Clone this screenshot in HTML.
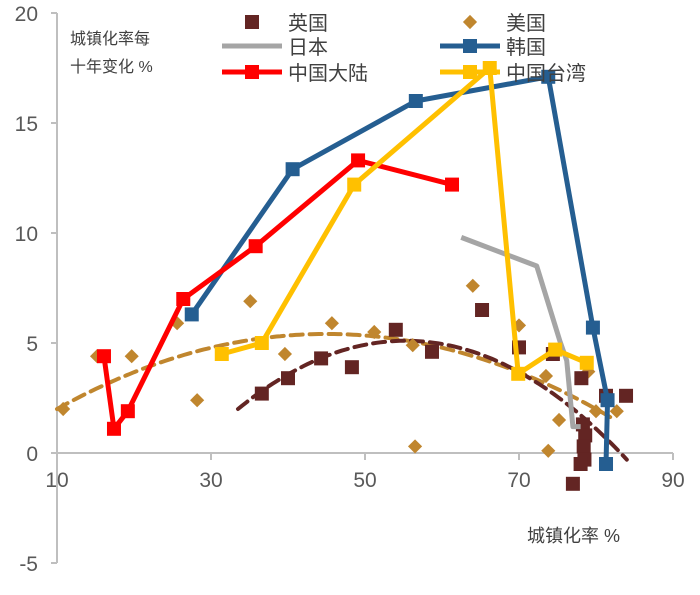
<!DOCTYPE html>
<html><head><meta charset="utf-8"><style>
body{margin:0;background:#fff;font-family:"Liberation Sans","Noto Sans CJK SC",sans-serif;}
svg text{font-family:"Liberation Sans","Noto Sans CJK SC",sans-serif;}
</style></head><body>
<svg id="c" width="700" height="590"></svg>
<script>
const xTicks=[10,30,50,70,90];
const yTicks=[-5,0,5,10,15,20];
const ukX=[36.6,40,44.3,48.3,54,58.7,65.2,70,74.4,78.1,81.3,83.9,78.3,78.6,78.4,78.5,78.0,77.0];
const ukY=[2.7,3.4,4.3,3.9,5.6,4.6,6.5,4.8,4.5,3.4,2.6,2.6,1.3,0.8,0.3,-0.3,-0.5,-1.4];
const usX=[10.8,15.2,19.7,25.6,28.2,35.1,39.6,45.7,51.2,56.2,56.5,64,70,73.5,73.8,75.2,79,80,82.7];
const usY=[2.0,4.4,4.4,5.9,2.4,6.9,4.5,5.9,5.5,4.9,0.3,7.6,5.8,3.5,0.1,1.5,3.7,1.9,1.9];
const jpX=[62.5,72.3,75.3,76.2,77.0,78.0];
const jpY=[9.8,8.5,5.1,4.2,1.2,1.2];
const krX=[27.5,40.6,56.6,73.8,79.6,81.5,81.3];
const krY=[6.3,12.9,16.0,17.1,5.7,2.4,-0.5];
const cnX=[16.1,17.4,19.2,26.4,35.8,49.1,61.3];
const cnY=[4.4,1.1,1.9,7.0,9.4,13.3,12.2];
const twX=[31.4,36.6,48.6,66.2,69.9,74.7,78.8];
const twY=[4.5,5.0,12.2,17.5,3.6,4.7,4.1];
const usTrendX=[10,47,82];const usTrendY=[2.0,5.4,1.6];
const ukTrendX=[33.5,55.8,84];const ukTrendY=[2.0,5.1,-0.3];

const sx=v=>57+(v-10)*7.7;
const sy=v=>453-v*22;
const svg=document.getElementById('c');
const NS='http://www.w3.org/2000/svg';
function mk(t,a,parent){const e=document.createElementNS(NS,t);for(const k in a)e.setAttribute(k,a[k]);(parent||svg).appendChild(e);return e;}
function lag(xs,ys,x){let s=0;for(let i=0;i<3;i++){let p=ys[i];for(let j=0;j<3;j++)if(j!==i)p*=(x-xs[j])/(xs[i]-xs[j]);s+=p;}return s;}

// axes
let ya=mk('line',{x1:sx(10),y1:sy(20),x2:sx(10),y2:sy(-5),stroke:'#bfbfbf','stroke-width':2});


let xa=mk('line',{x1:sx(10),y1:sy(0),x2:sx(90),y2:sy(0),stroke:'#bfbfbf','stroke-width':2});


xTicks.forEach(t=>{
  mk('line',{x1:sx(t),y1:sy(0),x2:sx(t),y2:sy(0)+7,stroke:'#bfbfbf','stroke-width':2});
  const tx=mk('text',{x:sx(t),y:sy(0)+34,'text-anchor':'middle','font-size':21,fill:'#595959'});
  tx.textContent=t;
  
  
});
yTicks.forEach(t=>{
  mk('line',{x1:sx(10)-6,y1:sy(t),x2:sx(10),y2:sy(t),stroke:'#bfbfbf','stroke-width':2});
  const tx=mk('text',{x:38,y:sy(t)+8,'text-anchor':'end','font-size':21,fill:'#595959'});
  tx.textContent=t;
  
  
});

// trend lines
function trend(xs,ys,x0,x1,color,name){
  let d='';for(let x=x0;x<=x1+0.001;x+=0.5){d+=(d?'L':'M')+sx(x).toFixed(1)+','+sy(lag(xs,ys,x)).toFixed(1);}
  const p=mk('path',{d:d,fill:'none',stroke:color,'stroke-width':4,'stroke-dasharray':'12,7','stroke-linecap':'round'});
  
  
}
trend(usTrendX,usTrendY,10,82,'#c0862e','us-trendline');
trend(ukTrendX,ukTrendY,33.5,84,'#632523','uk-trendline');

function line(xs,ys,color,name,marker){
  const pts=xs.map((x,i)=>sx(x)+','+sy(ys[i])).join(' ');
  const p=mk('polyline',{points:pts,fill:'none',stroke:color,'stroke-width':5,'stroke-linejoin':'round'});
  
  
  if(marker)xs.forEach((x,i)=>{
    const r=mk('rect',{x:sx(x)-7,y:sy(ys[i])-7,width:14,height:14,fill:color});
    
    
  });
}
// scatter
usX.forEach((x,i)=>{
  const d=mk('rect',{x:sx(x)-5,y:sy(usY[i])-5,width:10,height:10,fill:'#c0862e',transform:`rotate(45 ${sx(x)} ${sy(usY[i])})`});
  
  
});
ukX.forEach((x,i)=>{
  const r=mk('rect',{x:sx(x)-7,y:sy(ukY[i])-7,width:14,height:14,fill:'#632523'});
  
  
});
line(jpX,jpY,'#a5a5a5','japan',false);
line(krX,krY,'#255e91','korea',true);
line(cnX,cnY,'#ff0000','mainland',true);
line(twX,twY,'#ffc000','taiwan',true);

// legend
function leg(x,y,label,color,type,name){
  const g=mk('g',{});
  
  
  if(type!=='sq'&&type!=='dia')mk('line',{x1:x,y1:y,x2:x+60,y2:y,stroke:color,'stroke-width':5},g);
  if(type==='sq'||type==='lsq')mk('rect',{x:x+23,y:y-7,width:14,height:14,fill:color},g);
  if(type==='dia')mk('rect',{x:x+25,y:y-5,width:10,height:10,fill:color,transform:`rotate(45 ${x+30} ${y})`},g);
  const t=mk('text',{x:x+66,y:y+8,'font-size':20,fill:'#404040'},g);t.textContent=label;
}
leg(222,22,'英国','#632523','sq','uk');
leg(440,22,'美国','#c0862e','dia','us');
leg(222,46,'日本','#a5a5a5','l','japan');
leg(440,46,'韩国','#255e91','lsq','korea');
leg(222,72,'中国大陆','#ff0000','lsq','mainland');
leg(440,72,'中国台湾','#ffc000','lsq','taiwan');

let a=mk('text',{x:70,y:44,'font-size':16,fill:'#404040'});a.textContent='城镇化率每';


let b=mk('text',{x:70,y:72,'font-size':16,fill:'#404040'});b.textContent='十年变化 %';


let c=mk('text',{x:527,y:542,'font-size':18,fill:'#404040'});c.textContent='城镇化率 %';


</script>
</body></html>
